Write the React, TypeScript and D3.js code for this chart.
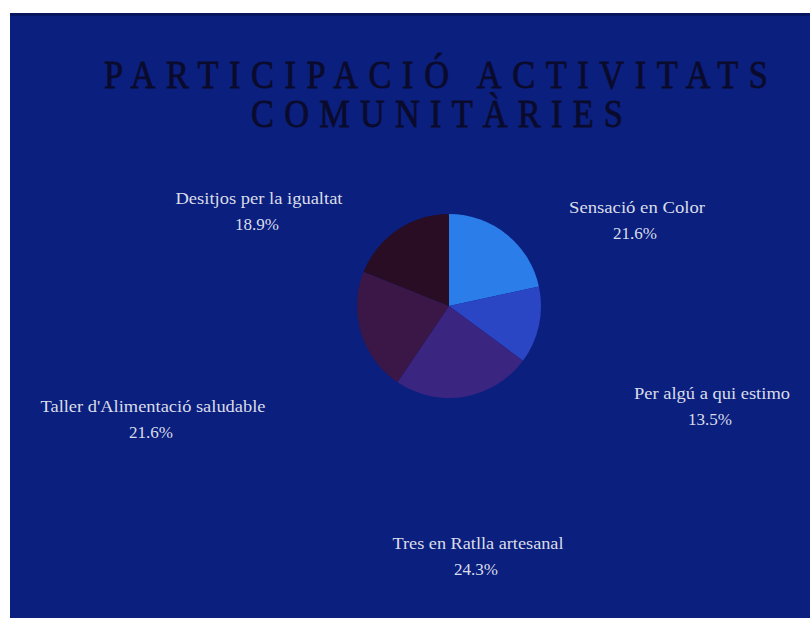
import React from "react";
import * as d3 from "d3";

const categories = [
  "Sensació en Color",
  "Per algú a qui estimo",
  "Tres en Ratlla artesanal",
  "Taller d'Alimentació saludable",
  "Desitjos per la igualtat",
];
const counts = [8, 5, 9, 8, 7];
const percentLabels = ["21.6%", "13.5%", "24.3%", "21.6%", "18.9%"];
const sliceColors = ["#2b7de9", "#2a46c4", "#3a2580", "#3a1746", "#280d24"];
const titleLines = ["PARTICIPACIÓ ACTIVITATS", "COMUNITÀRIES"];

// layout (label centre x, first-line baseline y, text width)
const labelLayout = [
  { x: 637, y: 213, w: 136 },
  { x: 712, y: 399, w: 156 },
  { x: 478, y: 549, w: 171 },
  { x: 153, y: 412, w: 225 },
  { x: 259, y: 204, w: 167 },
];

const W = 810;
const H = 618;

function Title({ text, x, y, width }: { text: string; x: number; y: number; width: number }) {
  const sx = 0.86;
  return (
    <g transform={`translate(${x},${y}) scale(${sx},1)`}>
      <text
        x={0}
        y={0}
        textAnchor="middle"
        fontSize={40}
        fill="#0a0b2c"
        stroke="#0a0b2c"
        strokeWidth={0.8}
        textLength={width / sx}
        lengthAdjust="spacing"
      >
        {text}
      </text>
    </g>
  );
}

export default function App() {
  const cx = 449;
  const cy = 306;
  const r = 92;
  const pie = d3
    .pie<number>()
    .sort(null)
    .value((d) => d)
    .startAngle(0)
    .endAngle(2 * Math.PI);
  const arcs = pie(counts);
  const arc = d3.arc<d3.PieArcDatum<number>>().innerRadius(0).outerRadius(r);

  return (
    <svg
      width={W}
      height={H}
      style={{ position: "absolute", left: 0, top: 0 }}
      fontFamily="'Liberation Serif', 'DejaVu Serif', serif"
    >
      <rect x={0} y={0} width={W} height={H} fill="#ffffff" />
      <rect x={10} y={13} width={W - 10} height={H - 13} fill="#0b1f7e" />
      <rect x={10} y={13} width={W - 10} height={3} fill="#071660" />
      <Title text={titleLines[0]} x={436} y={88} width={664} />
      <Title text={titleLines[1]} x={437} y={127} width={372} />
      <g transform={`translate(${cx},${cy})`}>
        {arcs.map((a, i) => (
          <path key={i} d={arc(a) || ""} fill={sliceColors[i]} />
        ))}
      </g>
      {categories.map((c, i) => {
        const L = labelLayout[i];
        return (
          <g key={c} fill="#d9dde9" fontSize={16}>
            <text
              x={L.x}
              y={L.y}
              textAnchor="middle"
              textLength={L.w}
              lengthAdjust="spacingAndGlyphs"
            >
              {c}
            </text>
            <text
              x={L.x - 2}
              y={L.y + 26}
              textAnchor="middle"
              textLength={44}
              lengthAdjust="spacingAndGlyphs"
            >
              {percentLabels[i]}
            </text>
          </g>
        );
      })}
    </svg>
  );
}
